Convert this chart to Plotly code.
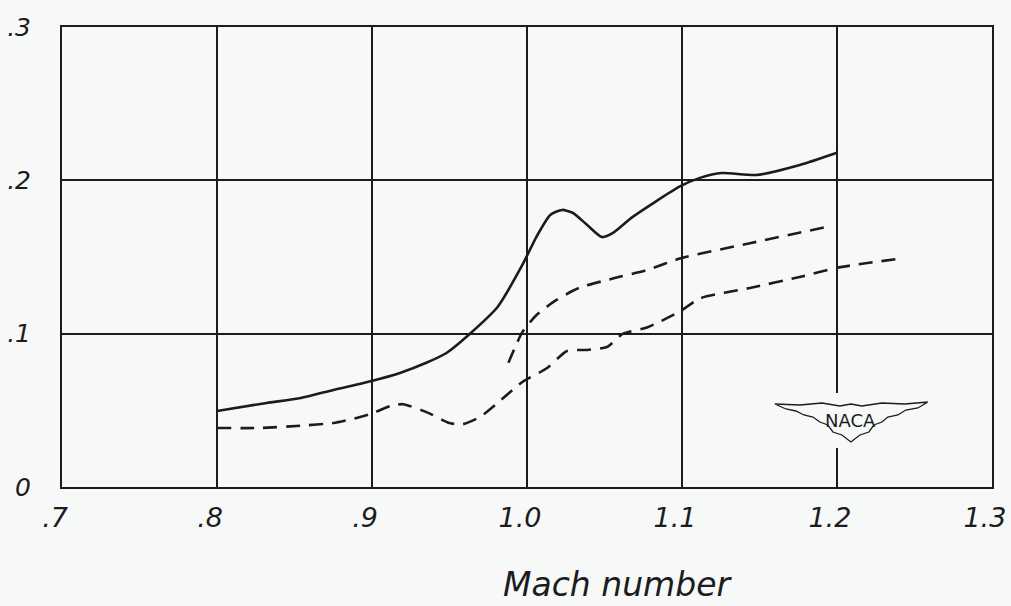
import plotly.graph_objects as go

# ---- data ----
solid_x = [0.800, 0.832, 0.854, 0.875, 0.899, 0.918, 0.935, 0.948, 0.963, 0.981, 0.997, 1.006, 1.015,
           1.0226, 1.0297, 1.0387, 1.0484, 1.0555, 1.068, 1.0987, 1.1116, 1.1258, 1.148, 1.176, 1.200]
solid_y = [0.0496, 0.0548, 0.058, 0.0633, 0.069, 0.0744, 0.081, 0.0874, 0.0998, 0.1174, 0.1448, 0.163, 0.1774,
           0.1807, 0.1787, 0.171, 0.163, 0.1657, 0.176, 0.196, 0.2016, 0.2048, 0.2035, 0.210, 0.218]

mid_x = [0.988, 0.997, 1.006, 1.019, 1.034, 1.0555, 1.0774, 1.0987, 1.1439, 1.1935]
mid_y = [0.081, 0.101, 0.112, 0.122, 0.130, 0.136, 0.1415, 0.149, 0.159, 0.1696]

low_x = [0.800, 0.828, 0.854, 0.875, 0.890, 0.899, 0.912, 0.920, 0.937, 0.950, 0.9587, 0.9697, 0.981, 0.997,
         1.013, 1.0258, 1.0387, 1.0516, 1.062, 1.0774, 1.0987, 1.1116, 1.1439, 1.176, 1.200, 1.2387]
low_y = [0.0385, 0.0385, 0.040, 0.0417, 0.045, 0.0476, 0.0528, 0.054, 0.048, 0.0417, 0.041, 0.0457, 0.0548, 0.0685,
         0.0776, 0.0887, 0.0894, 0.0913, 0.100, 0.104, 0.1145, 0.123, 0.1298, 0.137, 0.143, 0.1487]

x_ticks = [0.7, 0.8, 0.9, 1.0, 1.1, 1.2, 1.3]
x_ticktext = [".7", ".8", ".9", "1.0", "1.1", "1.2", "1.3"]
y_ticks = [0, 0.1, 0.2, 0.3]
y_ticktext = ["0", ".1", ".2", ".3"]
x_title = "Mach number"

BG = "#f7f8f8"
INK = "#1c1c1c"
FONT = "DejaVu Sans"

fig = go.Figure()
fig.add_trace(go.Scatter(x=solid_x, y=solid_y, mode="lines", line=dict(color=INK, width=2.6, shape="spline", smoothing=0.6),
                         showlegend=False, hoverinfo="skip"))
fig.add_trace(go.Scatter(x=mid_x, y=mid_y, mode="lines", line=dict(color=INK, width=2.6, shape="spline", smoothing=0.6, dash="14px,9px"),
                         showlegend=False, hoverinfo="skip"))
fig.add_trace(go.Scatter(x=low_x, y=low_y, mode="lines", line=dict(color=INK, width=2.6, shape="spline", smoothing=0.6, dash="14px,9px"),
                         showlegend=False, hoverinfo="skip"))

# plot area geometry (pixels) for the decorative NACA logo and title placement
W, H = 1011, 606
L, R, T, B = 62, 992, 27, 487
def px(xp):
    return 0.7 + (xp - L) / (R - L) * 0.6
def py(yp):
    return (B - yp) / (B - T) * 0.3
def ppx(xp):
    return (xp - L) / (R - L)
def ppy(yp):
    return (B - yp) / (B - T)

# gap in the 1.2 grid line around the logo
fig.add_shape(type="rect", x0=px(833), x1=px(841), y0=py(448), y1=py(393), fillcolor=BG, line=dict(width=0), layer="above")

wing = [(775, 404), (800, 405), (822, 403), (840, 406), (851, 404), (862, 406), (882, 403), (905, 404), (928, 402),
        (918, 408), (906, 410), (898, 415), (888, 417), (882, 422), (874, 425), (869, 432), (860, 435), (851, 442),
        (842, 435), (833, 432), (828, 425), (820, 422), (813, 417), (804, 415), (796, 411), (786, 409), (775, 404)]
path = "M " + " L ".join(f"{px(a):.5f},{py(b):.5f}" for a, b in wing) + " Z"
fig.add_shape(type="path", path=path, xref="x", yref="y", fillcolor=BG, line=dict(color=INK, width=1.3), layer="above")
fig.add_annotation(x=px(851), y=py(420), text="NACA", showarrow=False, font=dict(family=FONT, size=18, color=INK))

fig.add_annotation(x=ppx(617), y=ppy(584), xref="paper", yref="paper", xanchor="center", yanchor="middle",
                   text=x_title, showarrow=False, font=dict(family=FONT, size=33, color=INK, style="italic"))

fig.update_xaxes(range=[0.6999, 1.3001], tickvals=x_ticks, ticktext=x_ticktext, showgrid=True, gridcolor=INK, gridwidth=2,
                 showline=True, linecolor=INK, linewidth=2, mirror=True, zeroline=False, ticks="", ticklabelstandoff=6,
                 ticklabelshift=-7, ticklabeloverflow="allow", tickfont=dict(family=FONT, size=27, color=INK, style="italic"))
fig.update_yaxes(range=[0, 0.3], tickvals=y_ticks, ticktext=y_ticktext, showgrid=True, gridcolor=INK, gridwidth=2,
                 showline=True, linecolor=INK, linewidth=2, mirror=True, zeroline=False, ticks="", ticklabelstandoff=24,
                 ticklabeloverflow="allow", tickfont=dict(family=FONT, size=25, color=INK, style="italic"))

fig.update_layout(width=W, height=H, margin=dict(l=L, r=W - R, t=T, b=H - B, autoexpand=False),
                  paper_bgcolor=BG, plot_bgcolor=BG, showlegend=False)

fig.write_html("out.html", config={"displayModeBar": False},
               post_script="document.body.style.margin='0';document.body.style.background='%s';" % BG)
